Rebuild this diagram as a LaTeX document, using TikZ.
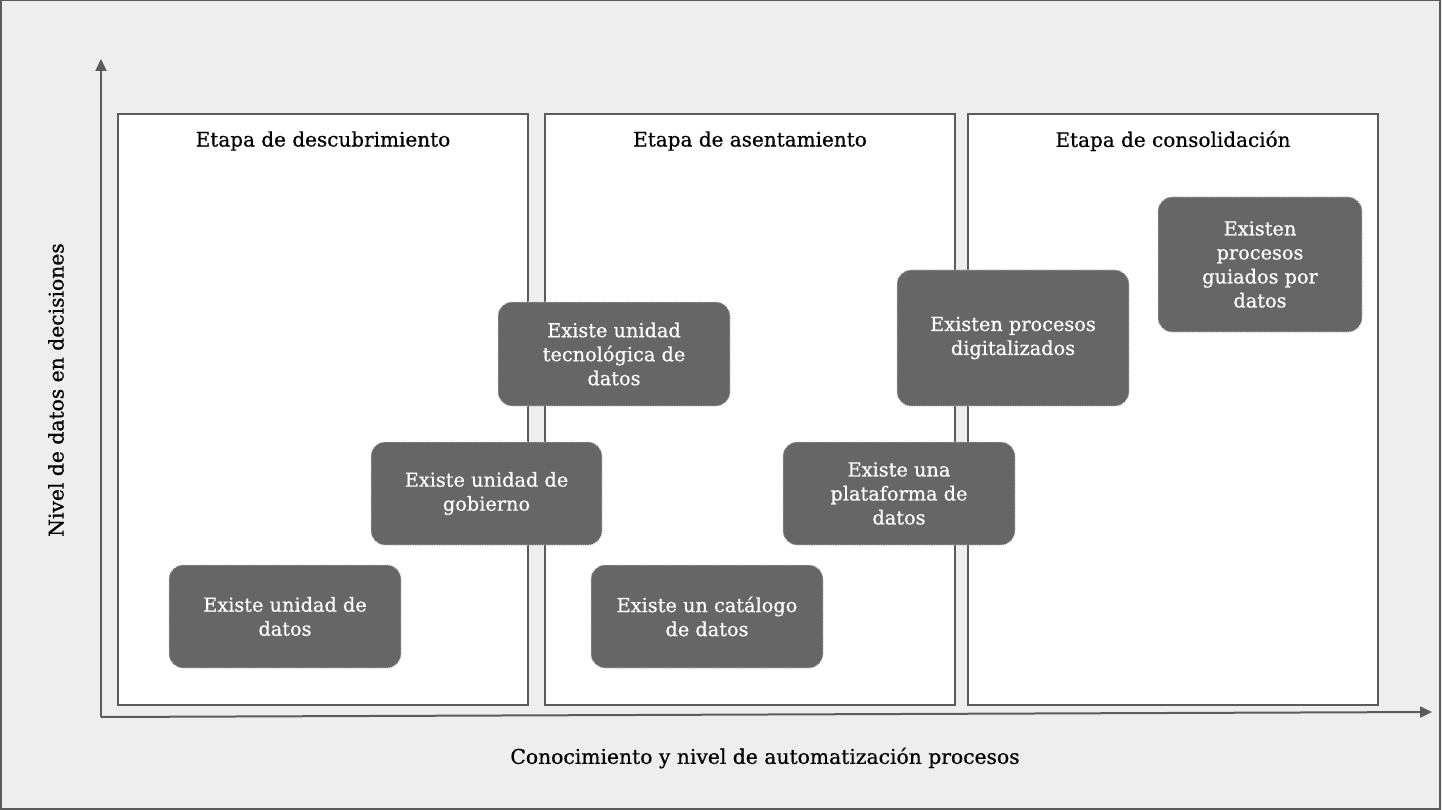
\documentclass[tikz,border=0pt]{standalone}
\usepackage{fontspec}
\setmainfont{DejaVu Serif}
\newfontfamily\semiserif{DejaVu Serif}[FakeBold=0.6]
\usetikzlibrary{arrows.meta}
\definecolor{bgc}{HTML}{EEEEEE}
\definecolor{linec}{HTML}{5B5B5B}
\definecolor{nodec}{HTML}{666666}
\definecolor{dotc}{HTML}{D8D8D8}
\begin{document}
\begin{tikzpicture}[x=1pt,y=-1pt,
  stagebox/.style={draw=linec,fill=white,line width=2pt},
  stagetitle/.style={font=\semiserif\fontsize{20}{24}\selectfont,text=black,anchor=center},
  item/.style={fill=nodec,draw=dotc,line width=0.8pt,dash pattern=on 1.2pt off 1.2pt,rounded corners=14pt,
     text=white,align=center,font=\semiserif\fontsize{19.3}{24}\selectfont,inner sep=0pt},
  axis/.style={draw=linec,line width=2pt,-{Triangle[length=12pt,width=11pt]}},
  axislabel/.style={font=\semiserif\fontsize{20.3}{24}\selectfont,text=black}]
\useasboundingbox (0,0) rectangle (1442,810);
\fill[bgc] (0,0) rectangle (1442,810);
\draw[linec,line width=1.5pt] (0.75,0.75) rectangle (1440,809);
% stage boxes
\node[stagebox,minimum width=410pt,minimum height=591pt,inner sep=0pt] (s1) at (323,409.5) {};
\node[stagebox,minimum width=410pt,minimum height=591pt,inner sep=0pt] (s2) at (750,409.5) {};
\node[stagebox,minimum width=410pt,minimum height=591pt,inner sep=0pt] (s3) at (1173,409.5) {};
\node[stagetitle] (t1) at (323,141) {Etapa de descubrimiento};
\node[stagetitle] (t2) at (750,141) {Etapa de asentamiento};
\node[stagetitle] (t3) at (1173,141) {Etapa de consolidación};
% axes
\coordinate (O) at (101,717);
\coordinate (Ytip) at (101,59);
\coordinate (Xtip) at (1432,712);
\draw[axis] (O) -- (Ytip);
\draw[axis] (O) -- (Xtip);
\node[axislabel] (xl) at (765,758) {Conocimiento y nivel de automatización procesos};
\node[axislabel,rotate=90] (yl) at (56,390) {Nivel de datos en decisiones};
% items
\node[item,minimum width=232pt,minimum height=103pt] (n1) at (285,616.5) {Existe unidad de\\datos};
\node[item,minimum width=231pt,minimum height=103pt] (n2) at (486.5,493.5) {Existe unidad de\\gobierno};
\node[item,minimum width=232pt,minimum height=104pt] (n3) at (614,354) {Existe unidad\\tecnológica de\\datos};
\node[item,minimum width=232pt,minimum height=103pt] (n4) at (707,616.5) {Existe un catálogo\\de datos};
\node[item,minimum width=232pt,minimum height=103pt] (n5) at (899,493.5) {Existe una\\plataforma de\\datos};
\node[item,minimum width=232pt,minimum height=136pt] (n6) at (1013,338) {Existen procesos\\digitalizados};
\node[item,minimum width=204pt,minimum height=135pt] (n7) at (1260,264.5) {Existen\\procesos\\guiados por\\datos};
\end{tikzpicture}
\end{document}
